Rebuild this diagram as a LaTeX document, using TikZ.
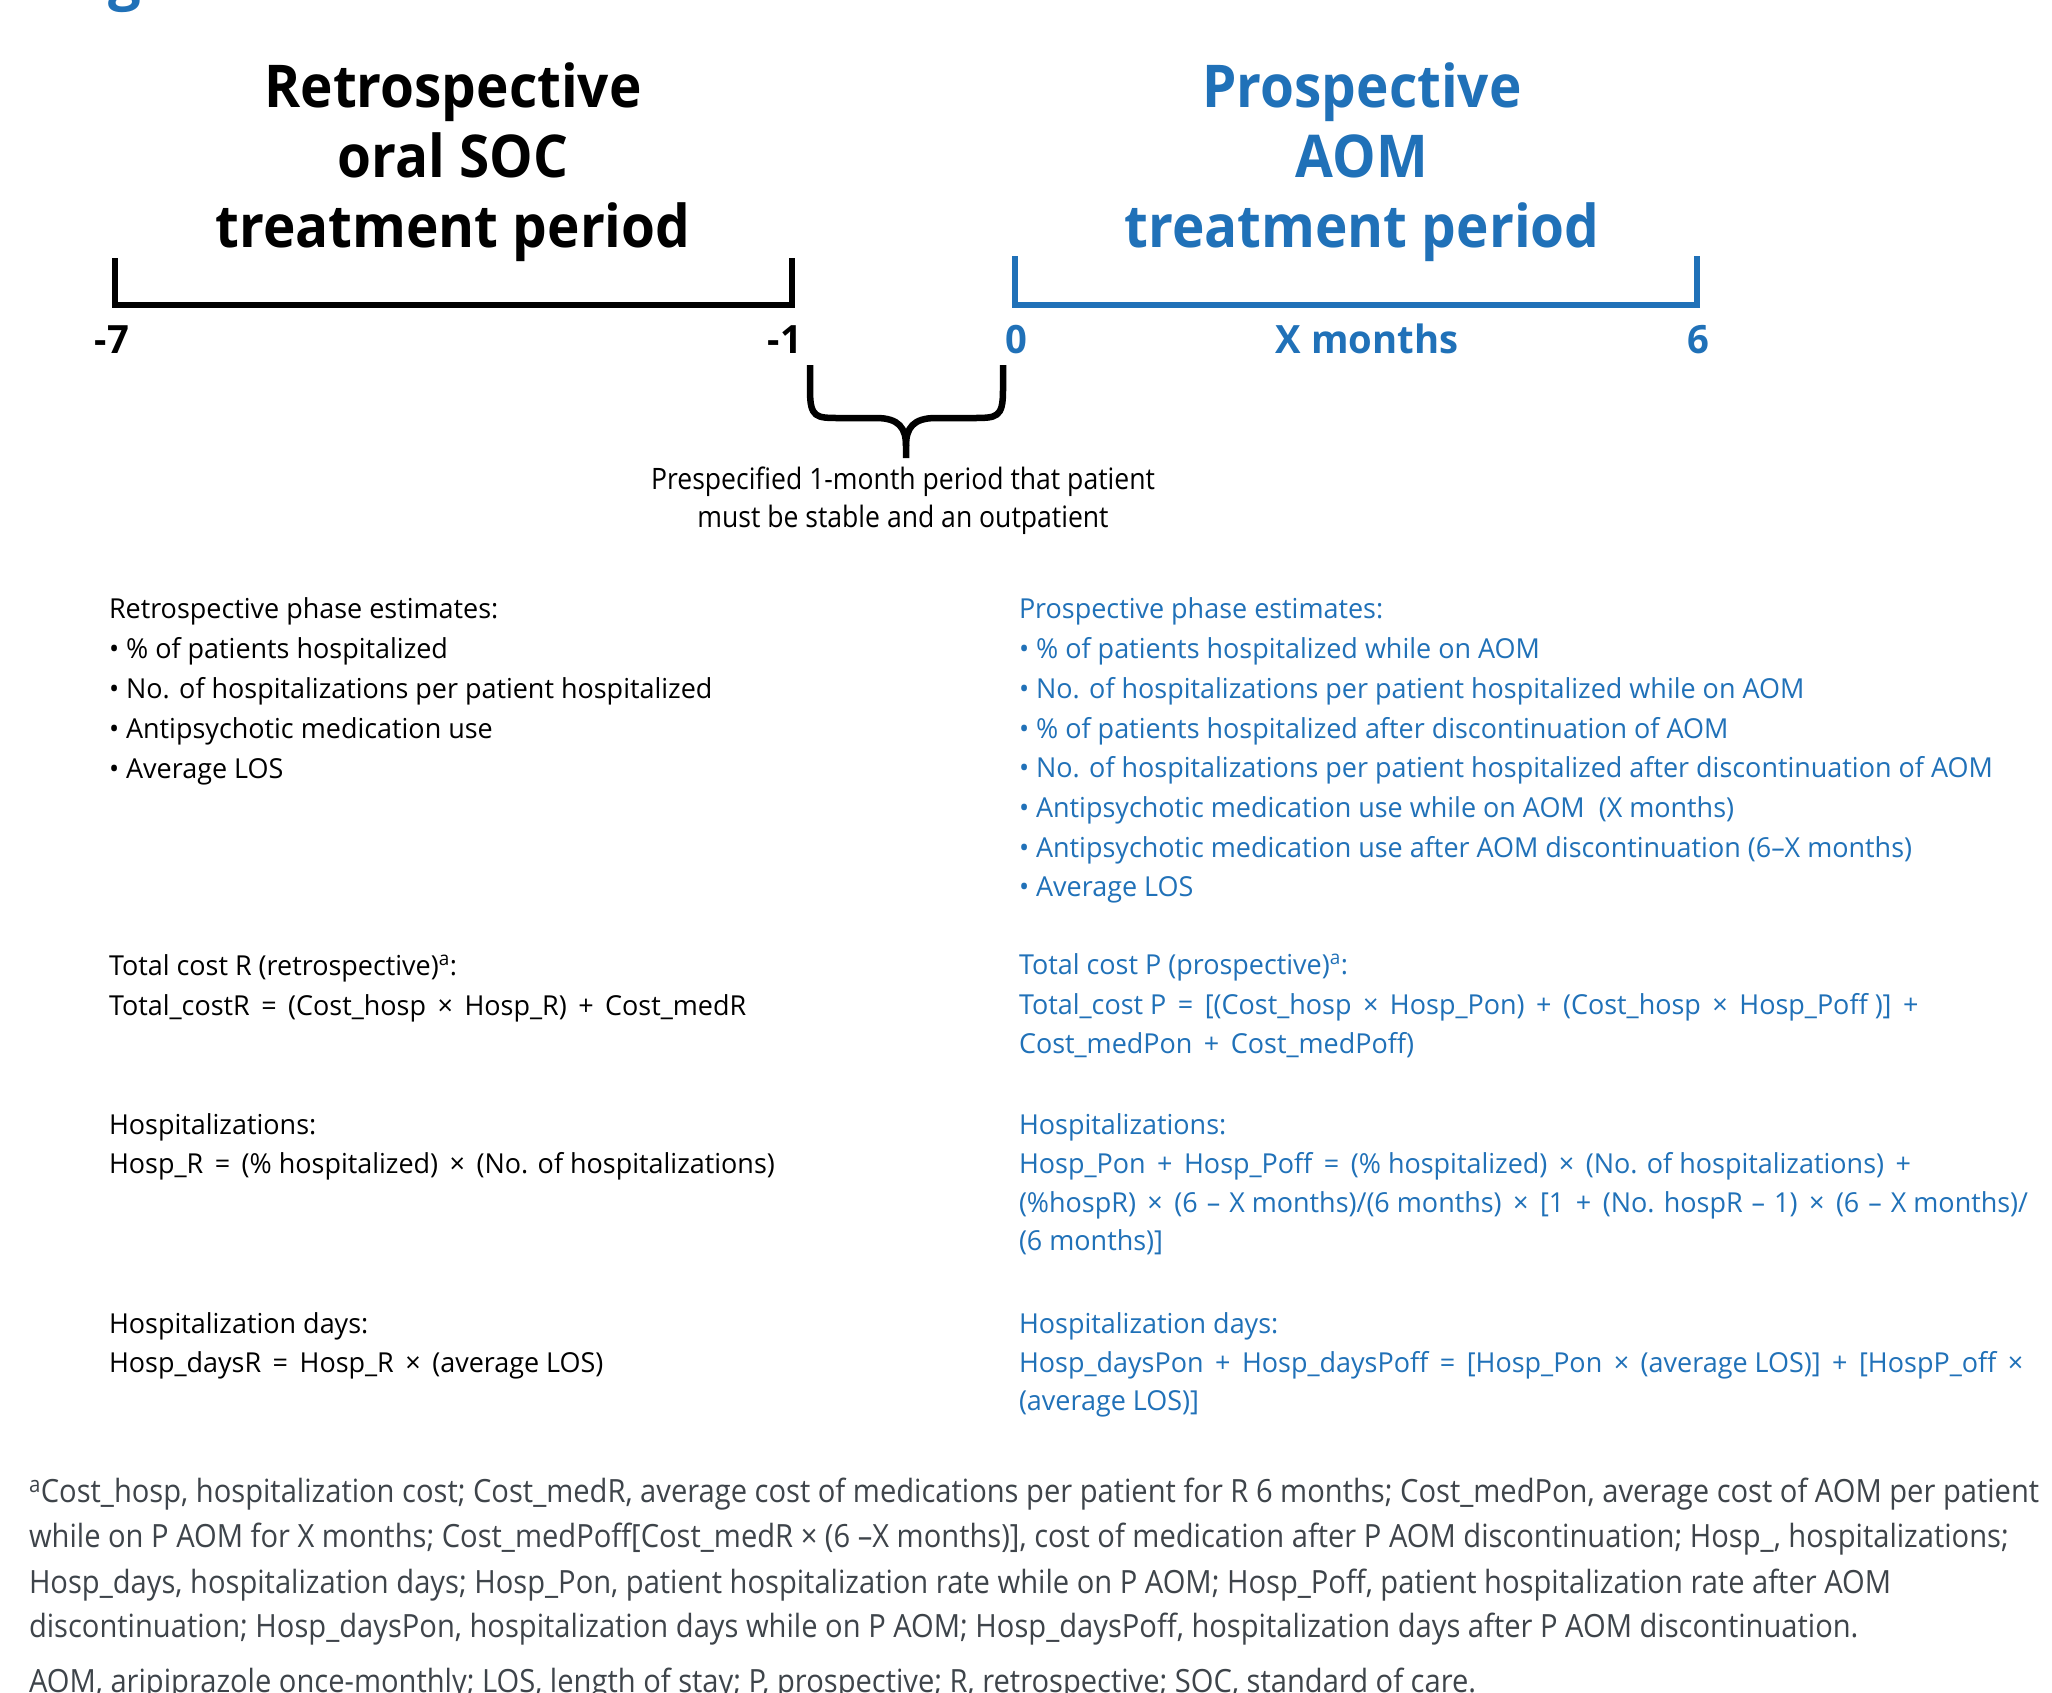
\documentclass[tikz,border=0pt]{standalone}
\usepackage{fontspec}
\setmainfont{Open Sans}[FakeStretch=0.98]
\newfontfamily\titlefont{Open Sans}[FakeStretch=0.93]
\newfontfamily\notefont{Open Sans}[FakeStretch=0.9]
\newfontfamily\fnfontfam{Open Sans}[FakeStretch=0.91]
\definecolor{mblue}{RGB}{32,113,184}
\definecolor{fngrey}{RGB}{62,68,74}
\newcommand\bodysize{\fontsize{27.5}{33}\selectfont}
\newcommand\fnsize{\fnfontfam\fontsize{32}{38}\selectfont}
\newcommand\opx[1]{\kern4.5pt\relax#1\kern4.5pt\relax}
\newcommand\opd{\kern2pt\relax–\kern2pt\relax}
\tikzset{
  line/.style={anchor=base west, inner sep=0pt, outer sep=0pt, font=\bodysize},
  bline/.style={line, text=mblue},
  fn/.style={anchor=base west, inner sep=0pt, outer sep=0pt, font=\fnsize, text=fngrey},
  ttl/.style={anchor=base, inner sep=0pt, font=\titlefont\bfseries\fontsize{59}{70}\selectfont},
  tick/.style={anchor=base, inner sep=0pt, font=\bfseries\fontsize{39}{45}\selectfont},
  period/.style={line width=6pt, line join=miter, line cap=butt},
  bracestyle/.style={line width=6.5pt, line cap=butt, line join=round},
  note/.style={anchor=base, inner sep=0pt, font=\notefont\fontsize{29.5}{36}\selectfont}
}
\begin{document}
\begin{tikzpicture}[x=1pt,y=-1pt]
\fill[white] (0,0) rectangle (2052,1692);
\useasboundingbox (0,0) rectangle (2052,1692);
% clipped heading glyph at top-left
\begin{scope}
\clip (0,0) rectangle (2052,1692);
\node[anchor=base west, inner sep=0pt, text=mblue, font=\bfseries\fontsize{59}{70}\selectfont] (figg) at (108,-2) {g};
\end{scope}

% titles
\node[ttl] (rt1) at (453,107) {Retrospective};
\node[ttl] (rt2) at (453,177) {oral SOC};
\node[ttl] (rt3) at (453,247) {treatment period};
\node[ttl, text=mblue] (pt1) at (1362,107) {Prospective};
\node[ttl, text=mblue] (pt2) at (1362,177) {AOM};
\node[ttl, text=mblue] (pt3) at (1362,247) {treatment period};

% period brackets
\coordinate (ra) at (115,258);
\coordinate (rb) at (115,305);
\coordinate (rc) at (792,305);
\coordinate (rd) at (792,258);
\draw[period] (ra) -- (rb) -- (rc) -- (rd);
\coordinate (pa) at (1015,256);
\coordinate (pb) at (1015,305);
\coordinate (pc) at (1697,305);
\coordinate (pd) at (1697,256);
\draw[period, mblue] (pa) -- (pb) -- (pc) -- (pd);

% tick labels
\node[tick] (m7) at (112,353) {-7};
\node[tick] (m1) at (785,353) {-1};
\node[tick, text=mblue] (z0) at (1016,353) {0};
\node[tick, text=mblue] (xm) at (1367,353) {X months};
\node[tick, text=mblue] (s6) at (1698,353) {6};

% brace
\coordinate (bl) at (810,365);
\coordinate (br) at (1003,365);
\coordinate (tip) at (906,458);
\draw[bracestyle] (bl) -- (810,390) .. controls (810,418) and (816,418) .. (840,418) -- (876,418) .. controls (899,418) and (906,428) .. (906,446) -- (tip);
\draw[bracestyle] (br) -- (1003,390) .. controls (1003,418) and (997,418) .. (972,418) -- (936,418) .. controls (913,418) and (906,428) .. (906,446);
\node[note] (n1) at (903,489) {Prespecified 1-month period that patient};
\node[note] (n2) at (903,527) {must be stable and an outpatient};

% left column
\node[line] (l1) at (109,618) {Retrospective phase estimates:};
\node[line] (l2) at (109,658) {\textbullet\ \% of patients hospitalized};
\node[line] (l3) at (109,698) {\textbullet\ No. of hospitalizations per patient hospitalized};
\node[line] (l4) at (109,738) {\textbullet\ Antipsychotic medication use};
\node[line] (l5) at (109,778) {\textbullet\ Average LOS};
\node[line] (l6) at (109,975) {Total cost R (retrospective)\textsuperscript{a}:};
\node[line] (l7) at (109,1015) {Total\_costR \opx{=} (Cost\_hosp \opx{×} Hosp\_R) \opx{+} Cost\_medR};
\node[line] (l8) at (109,1134) {Hospitalizations:};
\node[line] (l9) at (109,1173) {Hosp\_R \opx{=} (\% hospitalized) \opx{×} (No. of hospitalizations)};
\node[line] (l10) at (109,1333) {Hospitalization days:};
\node[line] (l11) at (109,1372) {Hosp\_daysR \opx{=} Hosp\_R \opx{×} (average LOS)};

% right column
\node[bline] (r1) at (1019,618) {Prospective phase estimates:};
\node[bline] (r2) at (1019,658) {\textbullet\ \% of patients hospitalized while on AOM};
\node[bline] (r3) at (1019,698) {\textbullet\ No. of hospitalizations per patient hospitalized while on AOM};
\node[bline] (r4) at (1019,738) {\textbullet\ \% of patients hospitalized after discontinuation of AOM};
\node[bline] (r5) at (1019,777) {\textbullet\ No. of hospitalizations per patient hospitalized after discontinuation of AOM};
\node[bline] (r6) at (1019,817) {\textbullet\ Antipsychotic medication use while on AOM\ \ (X months)};
\node[bline] (r7) at (1019,857) {\textbullet\ Antipsychotic medication use after AOM discontinuation (6–X months)};
\node[bline] (r8) at (1019,896) {\textbullet\ Average LOS};
\node[bline] (r9) at (1019,974) {Total cost P (prospective)\textsuperscript{a}:};
\node[bline] (r10) at (1019,1014) {Total\_cost P \opx{=} [(Cost\_hosp \opx{×} Hosp\_Pon) \opx{+} (Cost\_hosp \opx{×} Hosp\_Poff )] \opx{+}};
\node[bline] (r11) at (1019,1053) {Cost\_medPon \opx{+} Cost\_medPoff)};
\node[bline] (r12) at (1019,1134) {Hospitalizations:};
\node[bline] (r13) at (1019,1173) {Hosp\_Pon \opx{+} Hosp\_Poff \opx{=} (\% hospitalized) \opx{×} (No. of hospitalizations) \opx{+}};
\node[bline] (r14) at (1019,1212) {(\%hospR) \opx{×} (6 \opd{} X months)/(6 months) \opx{×} [1 \opx{+} (No. hospR \opd{} 1) \opx{×} (6 \opd{} X months)/};
\node[bline] (r15) at (1019,1250) {(6 months)]};
\node[bline] (r16) at (1019,1333) {Hospitalization days:};
\node[bline] (r17) at (1019,1372) {Hosp\_daysPon \opx{+} Hosp\_daysPoff \opx{=} [Hosp\_Pon \opx{×} (average LOS)] \opx{+} [HospP\_off \opx{×}};
\node[bline] (r18) at (1019,1410) {(average LOS)]};

% footnotes
\begin{scope}
\clip (0,0) rectangle (2052,1692);
\node[fn] (f1) at (29,1502) {\textsuperscript{a}Cost\_hosp, hospitalization cost; Cost\_medR, average cost of medications per patient for R 6 months; Cost\_medPon, average cost of AOM per patient};
\node[fn] (f2) at (29,1547) {while on P AOM for X months; Cost\_medPoff[Cost\_medR × (6 –X months)], cost of medication after P AOM discontinuation; Hosp\_, hospitalizations;};
\node[fn] (f3) at (29,1593) {Hosp\_days, hospitalization days; Hosp\_Pon, patient hospitalization rate while on P AOM; Hosp\_Poff, patient hospitalization rate after AOM};
\node[fn] (f4) at (29,1637) {discontinuation; Hosp\_daysPon, hospitalization days while on P AOM; Hosp\_daysPoff, hospitalization days after P AOM discontinuation.};
\node[fn] (f5) at (29,1692) {AOM, aripiprazole once-monthly; LOS, length of stay; P, prospective; R, retrospective; SOC, standard of care.};
\end{scope}
\end{tikzpicture}
\end{document}
